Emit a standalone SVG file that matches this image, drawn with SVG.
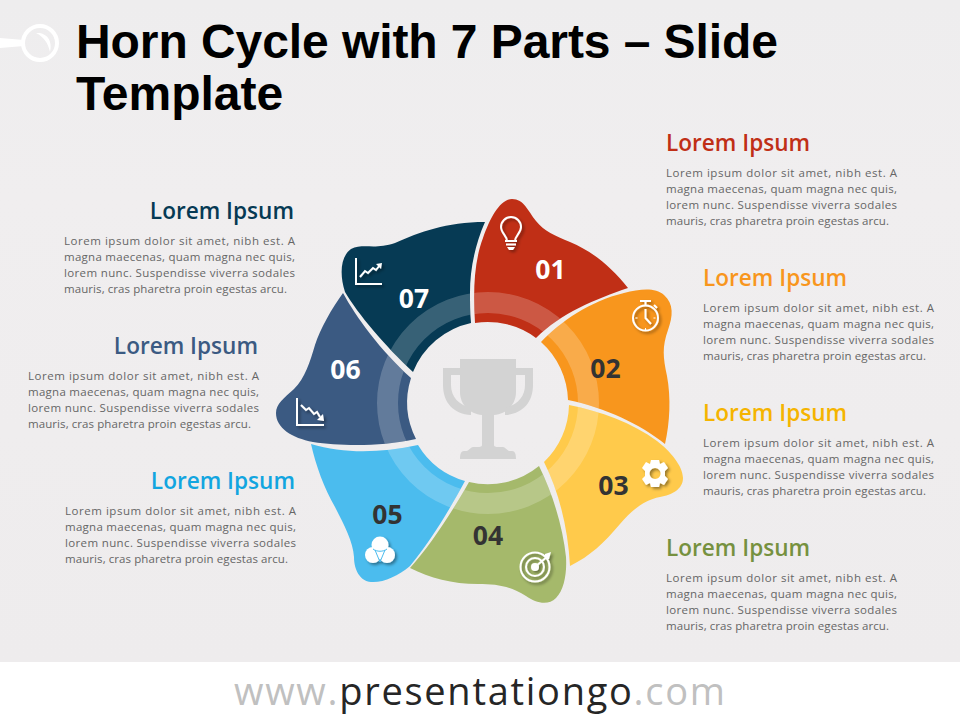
<svg xmlns="http://www.w3.org/2000/svg" width="960" height="720" viewBox="0 0 960 720">
<defs>
<linearGradient id="bg" x1="0" y1="0" x2="0" y2="1"><stop offset="0" stop-color="#eeedee"/><stop offset=".3" stop-color="#f0eeef"/><stop offset="1" stop-color="#eeeced"/></linearGradient>
<path id="s1" d="M475 323C473 290 474 262 483 238C490 218 500 199 512 199C524 199 528 211 536 221C544 231 555 236 570 242C594 252 612 268 628 288C596 299 561 313 536 338A81 81 0 0 0 475 323Z"/>
<path id="s2" d="M541 342C560 322 590 301 624 293C640 289 655 287 664 295C674 304 673 316 668 330C662 347 663 357 667 376C671 398 670 422 665 444C640 424 606 408 568 400A81 81 0 0 0 541 342Z"/>
<path id="s3" d="M569 405C600 411 633 423 657 441C670 451 683 466 683 478C683 489 672 495 660 497C644 500 632 510 620 524C604 543 590 556 570 566C568 528 559 492 544 462A81 81 0 0 0 569 405Z"/>
<path id="s4" d="M539 466C553 494 563 528 566 557C567 574 564 590 556 598C548 606 536 603 526 596C510 586 497 584 478 584C452 584 430 578 410 568C430 546 452 512 469 482A81 81 0 0 0 539 466Z"/>
<path id="s5" d="M311 444C345 454 380 453 418 445A81 81 0 0 0 465 481C450 509 430 542 410 566C398 576 383 583 371 582C360 581 354 570 354 557C353 541 344 525 335 507C324 488 316 466 311 444Z"/>
<path id="s6" d="M343 293C356 317 380 350 411 378A81 81 0 0 0 416 439C380 447 340 446 313 442C292 438 276 428 276 413C276 404 284 398 294 389C305 378 310 362 315 345C320 329 332 308 343 293Z"/>
<path id="s7" d="M485 222C474 247 470 272 470 292C470 302 470 313 471 323A81 81 0 0 0 413 372C385 346 358 314 345 292C339 273 341 256 351 249C363 243 375 250 395 243C420 232 446 222 485 222Z"/>
<clipPath id="rc"><use href="#s1"/><use href="#s2"/><use href="#s3"/><use href="#s4"/><use href="#s5"/><use href="#s6"/><use href="#s7"/></clipPath>
<filter id="sh" x="-30%" y="-30%" width="170%" height="170%"><feDropShadow dx="2" dy="2" stdDeviation="1.5" flood-color="#000" flood-opacity=".4"/></filter>
</defs>
<style>
text{font-family:"Open Sans","Liberation Sans",sans-serif}
.t{font-family:"Liberation Sans",Arial,sans-serif;font-weight:700;font-size:48px;fill:#000}
.h{font-size:22.6px;font-weight:600}
.b{font-size:11.5px;fill:#666}
.n{font-size:26.5px;font-weight:700;text-anchor:middle}
.w{fill:#fff}.d{fill:#333}
.i{fill:none;stroke:#fff;stroke-width:2}
.if{fill:#fff}
</style>
<rect width="960" height="662" fill="url(#bg)"/>
<rect y="662" width="960" height="58" fill="#fff"/>
<g id="pin">
<path d="M0 38L24 40V46L0 48Z" fill="#fff"/>
<circle cx="40" cy="43" r="17" fill="none" stroke="#fff" stroke-width="4"/>
<path d="M36 33C46 32 53 40 50 52C48 43 44 37 36 33Z" fill="#fff"/>
</g>
<g id="title"><text class="t" x="76" y="58" textLength="702">Horn Cycle with 7 Parts – Slide</text><text class="t" x="76" y="110">Template</text></g>
<g id="connectors"></g>
<g id="node1"><use href="#s1" fill="#c02f16"/></g>
<g id="node2"><use href="#s2" fill="#f8961d"/></g>
<g id="node3"><use href="#s3" fill="#ffca4b"/></g>
<g id="node4"><use href="#s4" fill="#a5b96b"/></g>
<g id="node5"><use href="#s5" fill="#4bbcee"/></g>
<g id="node6"><use href="#s6" fill="#3b5a82"/></g>
<g id="node7"><use href="#s7" fill="#063a54"/></g>
<circle id="ring" cx="488" cy="403" r="100.500" fill="none" stroke="#fff" stroke-opacity=".2" stroke-width="21" clip-path="url(#rc)"/>
<g id="cup" fill="#d3d3d3">
<path d="M460 359H516V392C516 405 506 414 494 415V445C494 447 497 447 500 447H503C505 447 507 450 509 451H512C515 451 516 454 516 459H460C460 454 461 451 464 451H467C469 450 471 447 473 447H476C479 447 482 447 482 445V415C470 414 460 405 460 392Z"/>
<path fill-rule="evenodd" d="M443 368H533V385C533 403 522 414 505 415V408C517 405 525 397 525 385V375H451V385C451 397 459 405 471 408V415C454 414 443 403 443 385Z"/>
</g>
<g id="labels">
<text class="n w" x="550.500" y="278.500">01</text>
<text class="n d" x="605.500" y="377.500">02</text>
<text class="n d" x="613.500" y="494.500">03</text>
<text class="n d" x="488" y="544.500">04</text>
<text class="n d" x="387.500" y="523.500">05</text>
<text class="n w" x="345.500" y="378.500">06</text>
<text class="n w" x="414" y="307.500">07</text>
</g>
<g id="icon1" filter="url(#sh)">
<path class="i" d="M507 241C507 236 501 233 501 227A10 10 0 0 1 521 227C521 233 515 236 515 241Z"/>
<path class="i" d="M505 241H517M506 244.500H516"/>
<path class="if" d="M507 247H515L513 250H509Z"/>
</g>
<g id="icon2" filter="url(#sh)">
<circle class="i" cx="645.500" cy="318" r="12.500"/>
<path class="i" d="M640 301H651M645.500 301V305M654 305L657 308M645.500 309V318L651 324"/>
<path d="M645.500 328V330M635.500 318H637.500M653.500 318H655.500" stroke="#fff" stroke-width="1" fill="none"/>
</g>
<g id="icon3" filter="url(#sh)">
<path class="if" fill-rule="evenodd" d="M651 460H659L660 464L664 462L668 468L665 471V476L668 479L664 485L660 483L659 487H651L650 483L646 485L642 479L645 476V471L642 468L646 462L650 464ZM655 468A5.500 5.500 0 1 0 655.100 468Z"/>
</g>
<g id="icon4" filter="url(#sh)">
<circle class="i" cx="535" cy="567" r="14.500" stroke-width="2.500"/>
<circle class="i" cx="535" cy="567" r="9"/>
<circle class="if" cx="535" cy="567" r="4"/>
<path class="i" d="M535 567L548 556"/>
<path class="if" d="M545 554L551 552L549 559L545 559Z"/>
</g>
<g id="icon5" filter="url(#sh)">
<circle class="if" cx="380" cy="545" r="8.500"/><circle class="if" cx="373" cy="555" r="8"/><circle class="if" cx="387" cy="555" r="8"/>
<path d="M373 549C377 552 383 552 387 549M375 550L380 562M385 550L380 562" fill="none" stroke="#4bbcee" stroke-width="1"/>
</g>
<g id="icon6" filter="url(#sh)">
<path class="i" d="M297 398V425H324"/>
<path class="i" d="M301 405L306 410L309 408L314 414L317 412L320 417"/>
<path class="if" d="M317 420L324 421L323 414Z"/>
</g>
<g id="icon7" filter="url(#sh)">
<path class="i" d="M356 258V284H382"/>
<path class="i" d="M360 277L365 271L368 273L373 268L376 270L380 265"/>
<path class="if" d="M376 264L382 263L381 269Z"/>
</g>
<g id="text1"><text class="h" x="666" y="151" fill="#c02f16">Lorem Ipsum</text>
<text class="b" x="666" y="177" textLength="231">Lorem ipsum dolor sit amet, nibh est. A</text><text class="b" x="666" y="193" textLength="231">magna maecenas, quam magna nec quis,</text><text class="b" x="666" y="209" textLength="231">lorem nunc. Suspendisse viverra sodales</text><text class="b" x="666" y="225" textLength="223">mauris, cras pharetra proin egestas arcu.</text></g>
<g id="text2"><text class="h" x="703" y="286" fill="#f8961d">Lorem Ipsum</text>
<text class="b" x="703" y="312" textLength="231">Lorem ipsum dolor sit amet, nibh est. A</text><text class="b" x="703" y="328" textLength="231">magna maecenas, quam magna nec quis,</text><text class="b" x="703" y="344" textLength="231">lorem nunc. Suspendisse viverra sodales</text><text class="b" x="703" y="360" textLength="223">mauris, cras pharetra proin egestas arcu.</text></g>
<g id="text3"><text class="h" x="703" y="421" fill="#f5b400">Lorem Ipsum</text>
<text class="b" x="703" y="447" textLength="231">Lorem ipsum dolor sit amet, nibh est. A</text><text class="b" x="703" y="463" textLength="231">magna maecenas, quam magna nec quis,</text><text class="b" x="703" y="479" textLength="231">lorem nunc. Suspendisse viverra sodales</text><text class="b" x="703" y="495" textLength="223">mauris, cras pharetra proin egestas arcu.</text></g>
<g id="text4"><text class="h" x="666" y="556" fill="#76913f">Lorem Ipsum</text>
<text class="b" x="666" y="582" textLength="231">Lorem ipsum dolor sit amet, nibh est. A</text><text class="b" x="666" y="598" textLength="231">magna maecenas, quam magna nec quis,</text><text class="b" x="666" y="614" textLength="231">lorem nunc. Suspendisse viverra sodales</text><text class="b" x="666" y="630" textLength="223">mauris, cras pharetra proin egestas arcu.</text></g>
<g id="text5"><text class="h" x="295" y="489" fill="#12a5e0" text-anchor="end">Lorem Ipsum</text>
<text class="b" x="65" y="515" textLength="231">Lorem ipsum dolor sit amet, nibh est. A</text><text class="b" x="65" y="531" textLength="231">magna maecenas, quam magna nec quis,</text><text class="b" x="65" y="547" textLength="231">lorem nunc. Suspendisse viverra sodales</text><text class="b" x="65" y="563" textLength="223">mauris, cras pharetra proin egestas arcu.</text></g>
<g id="text6"><text class="h" x="258" y="354" fill="#3b5a82" text-anchor="end">Lorem Ipsum</text>
<text class="b" x="28" y="380" textLength="231">Lorem ipsum dolor sit amet, nibh est. A</text><text class="b" x="28" y="396" textLength="231">magna maecenas, quam magna nec quis,</text><text class="b" x="28" y="412" textLength="231">lorem nunc. Suspendisse viverra sodales</text><text class="b" x="28" y="428" textLength="223">mauris, cras pharetra proin egestas arcu.</text></g>
<g id="text7"><text class="h" x="294" y="219" fill="#063a54" text-anchor="end">Lorem Ipsum</text>
<text class="b" x="64" y="245" textLength="231">Lorem ipsum dolor sit amet, nibh est. A</text><text class="b" x="64" y="261" textLength="231">magna maecenas, quam magna nec quis,</text><text class="b" x="64" y="277" textLength="231">lorem nunc. Suspendisse viverra sodales</text><text class="b" x="64" y="293" textLength="223">mauris, cras pharetra proin egestas arcu.</text></g>
<text id="footer" x="234" y="705" font-size="38" textLength="491" fill="#c0c0c0">www.<tspan fill="#262626">presentationgo</tspan>.com</text>
</svg>
